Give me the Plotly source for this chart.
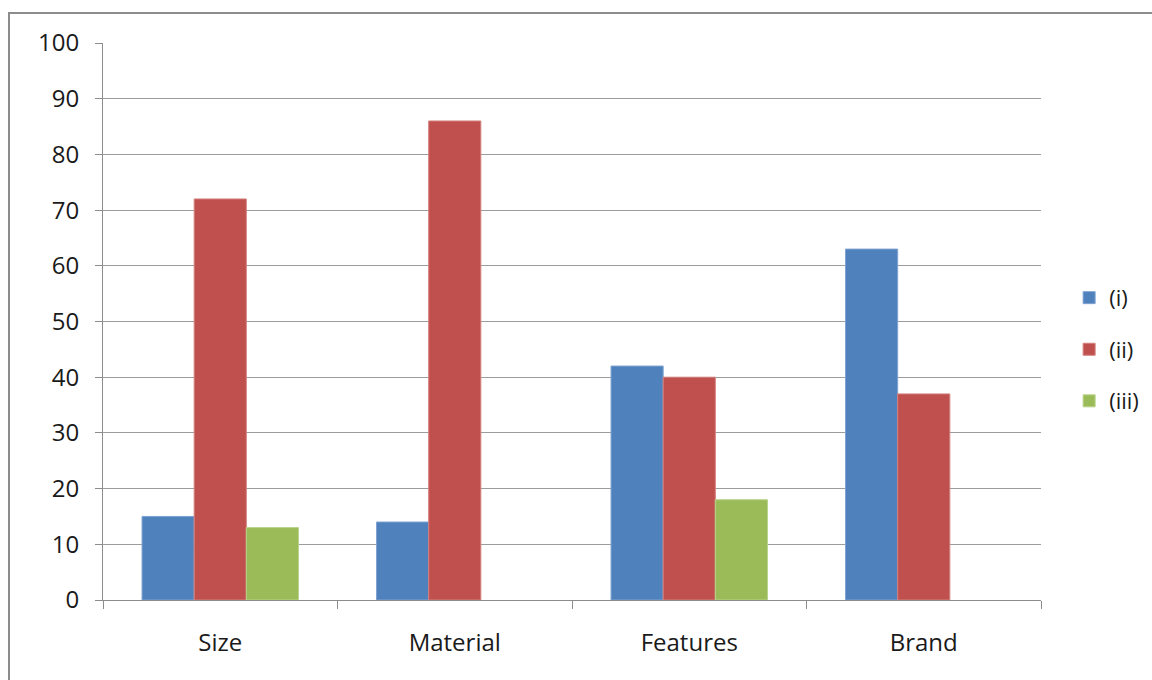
import plotly.graph_objects as go

categories = ["Size", "Material", "Features", "Brand"]
series_names = ["(i)", "(ii)", "(iii)"]
values_i = [15, 14, 42, 63]
values_ii = [72, 86, 40, 37]
values_iii = [13, None, 18, None]
colors = ["#4F81BD", "#C0504D", "#9BBB59"]
edge_colors = ["#7FA3D3", "#D4817F", "#B9D38A"]
y_ticks = [0, 10, 20, 30, 40, 50, 60, 70, 80, 90, 100]

FONT = "Open Sans, DejaVu Sans, sans-serif"

fig = go.Figure()
for name, vals, col, edge in zip(series_names, [values_i, values_ii, values_iii], colors, edge_colors):
    fig.add_trace(go.Bar(
        x=categories, y=vals, name=name, legendgroup=name,
        marker=dict(color=col, line=dict(color=edge, width=1)),
    ))

fig.update_layout(
    width=1152, height=680,
    margin=dict(l=103, r=111, t=43, b=80, autoexpand=False),
    paper_bgcolor="white", plot_bgcolor="white",
    barmode="group", bargap=0.333, bargroupgap=0,
    font=dict(family=FONT, size=24, color="#1a1a1a"),
    showlegend=True,
    legend=dict(
        x=1.030, y=0.45, xanchor="left", yanchor="middle",
        traceorder="grouped", tracegroupgap=20,
        font=dict(size=22), itemwidth=30,
        bgcolor="rgba(0,0,0,0)",
    ),
    xaxis=dict(
        showgrid=False, showline=True, linecolor="#8C8C8C", linewidth=1,
        ticks="outside", ticklen=8, tickcolor="#8C8C8C",
        tickson="boundaries", ticklabelstandoff=21,
    ),
    yaxis=dict(
        range=[0, 100], tickvals=y_ticks, showgrid=True, gridcolor="#9C9C9C", gridwidth=1,
        showline=True, linecolor="#8C8C8C", linewidth=1,
        ticks="outside", ticklen=7, tickcolor="#8C8C8C",
        ticklabelstandoff=11, zeroline=False,
    ),
    shapes=[dict(
        type="rect", xref="paper", yref="paper",
        x0=-94 / 938, x1=1.2, y0=-0.3, y1=1 + 30 / 557,
        line=dict(color="#8C8C8C", width=2), fillcolor="rgba(0,0,0,0)", layer="above",
    )],
)

fig.write_html("out.html")
